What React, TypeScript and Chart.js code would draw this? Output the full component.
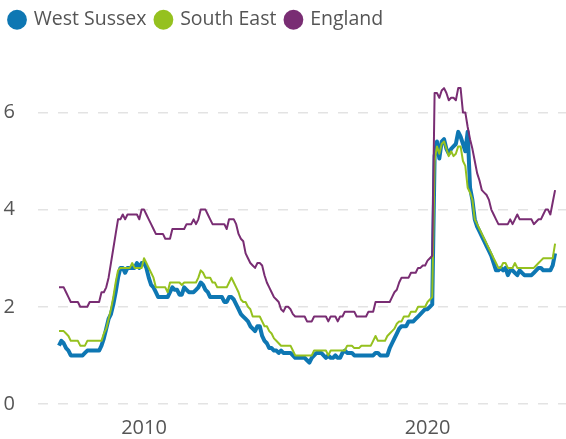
import React, { useEffect, useRef } from "react";
import { Chart, registerables } from "chart.js";

Chart.register(...registerables);

// Monthly series, January 2007 onwards
const START_YEAR = 2007;
const seriesNames = ["West Sussex", "South East", "England"];
const seriesColors = ["#0e77b3", "#95c11f", "#792d73"];
const xTickYears = [2010, 2020];
const yTickValues = [0, 2, 4, 6];

const westSussex = [
  1.2, 1.3, 1.25, 1.15, 1.1, 1.0, 1.0, 1.0, 1.0, 1.0, 1.0, 1.05,
  1.1, 1.1, 1.1, 1.1, 1.1, 1.1, 1.2, 1.35, 1.55, 1.75, 1.85, 2.05,
  2.3, 2.6, 2.8, 2.8, 2.7, 2.8, 2.8, 2.8, 2.8, 2.9, 2.8, 2.9,
  2.9, 2.8, 2.6, 2.45, 2.4, 2.3, 2.2, 2.2, 2.2, 2.2, 2.2, 2.3,
  2.4, 2.35, 2.35, 2.25, 2.25, 2.4, 2.35, 2.3, 2.3, 2.3, 2.35, 2.4,
  2.5, 2.45, 2.35, 2.3, 2.2, 2.2, 2.2, 2.2, 2.2, 2.2, 2.1, 2.1,
  2.2, 2.2, 2.15, 2.05, 1.95, 1.85, 1.8, 1.75, 1.7, 1.6, 1.55, 1.5,
  1.6, 1.6, 1.4, 1.3, 1.25, 1.15, 1.15, 1.1, 1.1, 1.05, 1.1, 1.05,
  1.05, 1.05, 1.05, 1.0, 0.95, 0.95, 0.95, 0.95, 0.95, 0.9, 0.85, 0.95,
  1.0, 1.05, 1.05, 1.05, 1.0, 0.95, 1.0, 0.95, 0.95, 1.0, 0.95, 0.95,
  1.05, 1.1, 1.05, 1.05, 1.05, 1.0, 1.0, 1.0, 1.0, 1.0, 1.0, 1.0,
  1.0, 1.0, 1.05, 1.05, 1.0, 1.0, 1.0, 1.0, 1.15, 1.25, 1.35, 1.45,
  1.55, 1.6, 1.6, 1.6, 1.7, 1.7, 1.7, 1.75, 1.8, 1.85, 1.9, 1.95,
  1.95, 2.0, 2.05, 5.1, 5.4, 5.05, 5.4, 5.45, 5.25, 5.15, 5.25, 5.3,
  5.35, 5.6, 5.5, 5.35, 5.2, 5.6, 4.45, 4.2, 3.8, 3.65, 3.55, 3.45,
  3.35, 3.25, 3.15, 3.05, 2.9, 2.75, 2.75, 2.8, 2.75, 2.8, 2.65, 2.75,
  2.75, 2.7, 2.65, 2.75, 2.7, 2.65, 2.65, 2.65, 2.65, 2.7, 2.75, 2.8,
  2.8, 2.75, 2.75, 2.75, 2.75, 2.85, 3.1,
];

const southEast = [
  1.5, 1.5, 1.5, 1.45, 1.4, 1.3, 1.3, 1.3, 1.3, 1.2, 1.2, 1.2,
  1.3, 1.3, 1.3, 1.3, 1.3, 1.3, 1.3, 1.45, 1.55, 1.75, 1.95, 2.2,
  2.5, 2.75, 2.8, 2.8, 2.8, 2.8, 2.8, 2.9, 2.8, 2.8, 2.8, 2.8,
  3.0, 2.9, 2.8, 2.7, 2.6, 2.4, 2.4, 2.4, 2.4, 2.4, 2.3, 2.5,
  2.5, 2.5, 2.5, 2.5, 2.45, 2.5, 2.5, 2.5, 2.5, 2.5, 2.5, 2.6,
  2.75, 2.7, 2.6, 2.6, 2.6, 2.5, 2.5, 2.4, 2.4, 2.4, 2.4, 2.4,
  2.5, 2.6, 2.5, 2.4, 2.3, 2.15, 2.1, 2.1, 2.0, 1.95, 1.8, 1.8,
  1.8, 1.8, 1.7, 1.6, 1.6, 1.5, 1.45, 1.35, 1.3, 1.25, 1.2, 1.2,
  1.2, 1.2, 1.2, 1.1, 1.0, 1.0, 1.0, 1.0, 1.0, 1.0, 1.0, 1.0,
  1.1, 1.1, 1.1, 1.1, 1.1, 1.1, 1.0, 1.1, 1.1, 1.1, 1.1, 1.1,
  1.1, 1.1, 1.2, 1.2, 1.2, 1.15, 1.15, 1.15, 1.2, 1.2, 1.2, 1.2,
  1.2, 1.3, 1.4, 1.3, 1.3, 1.3, 1.3, 1.4, 1.45, 1.5, 1.55, 1.65,
  1.7, 1.7, 1.8, 1.8, 1.8, 1.9, 1.9, 1.9, 2.0, 2.0, 2.0, 2.0,
  2.1, 2.15, 2.2, 5.0, 5.3, 5.15, 5.35, 5.4, 5.25, 5.1, 5.2, 5.1,
  5.15, 5.3, 5.3, 5.0, 4.9, 4.45, 4.35, 4.2, 3.8, 3.7, 3.6, 3.5,
  3.4, 3.3, 3.2, 3.1, 3.0, 2.9, 2.8, 2.8, 2.9, 2.9, 2.8, 2.8,
  2.8, 2.9, 2.8, 2.8, 2.8, 2.8, 2.8, 2.8, 2.8, 2.8, 2.85, 2.9,
  2.95, 3.0, 3.0, 3.0, 3.0, 3.0, 3.3,
];

const england = [
  2.4, 2.4, 2.4, 2.3, 2.2, 2.1, 2.1, 2.1, 2.1, 2.0, 2.0, 2.0,
  2.0, 2.1, 2.1, 2.1, 2.1, 2.1, 2.3, 2.3, 2.4, 2.6, 2.9, 3.2,
  3.5, 3.8, 3.8, 3.9, 3.8, 3.9, 3.9, 3.9, 3.9, 3.9, 3.8, 4.0,
  4.0, 3.9, 3.8, 3.7, 3.6, 3.5, 3.5, 3.5, 3.5, 3.4, 3.4, 3.4,
  3.6, 3.6, 3.6, 3.6, 3.6, 3.6, 3.7, 3.7, 3.7, 3.8, 3.7, 3.8,
  4.0, 4.0, 4.0, 3.9, 3.8, 3.7, 3.7, 3.7, 3.7, 3.7, 3.7, 3.6,
  3.8, 3.8, 3.8, 3.7, 3.5, 3.4, 3.35, 3.1, 3.0, 2.9, 2.85, 2.8,
  2.9, 2.9, 2.85, 2.65, 2.5, 2.4, 2.3, 2.2, 2.15, 2.1, 1.95, 1.9,
  2.0, 2.0, 1.95, 1.85, 1.8, 1.8, 1.8, 1.8, 1.8, 1.7, 1.7, 1.7,
  1.8, 1.8, 1.8, 1.8, 1.8, 1.8, 1.7, 1.8, 1.8, 1.8, 1.7, 1.8,
  1.8, 1.9, 1.9, 1.9, 1.9, 1.9, 1.8, 1.8, 1.8, 1.8, 1.8, 1.9,
  1.9, 1.9, 2.1, 2.1, 2.1, 2.1, 2.1, 2.1, 2.1, 2.2, 2.3, 2.35,
  2.5, 2.6, 2.6, 2.6, 2.6, 2.7, 2.7, 2.7, 2.8, 2.8, 2.85, 2.85,
  2.95, 3.0, 3.05, 6.4, 6.4, 6.3, 6.45, 6.5, 6.4, 6.25, 6.3, 6.3,
  6.25, 6.5, 6.5, 6.0, 6.0, 5.7, 5.45, 5.25, 5.0, 4.75, 4.6, 4.4,
  4.35, 4.3, 4.2, 4.0, 3.9, 3.8, 3.7, 3.7, 3.7, 3.7, 3.7, 3.8,
  3.7, 3.8, 3.9, 3.8, 3.8, 3.8, 3.8, 3.8, 3.8, 3.7, 3.75, 3.8,
  3.8, 3.9, 4.0, 4.0, 3.9, 4.15, 4.4,
];

const seriesValues = [westSussex, southEast, england];
const seriesWidths = [4, 2, 2];

const FONT = "'Open Sans', 'Noto Sans', sans-serif";
const TEXT = "#555555";

export default function App() {
  const ref = useRef<HTMLCanvasElement | null>(null);

  useEffect(() => {
    if (!ref.current) return;
    const monthX = (i: number) => START_YEAR + i / 12;
    const datasets = seriesNames.map((name, k) => ({
      label: name,
      data: seriesValues[k].map((v, i) => ({ x: monthX(i), y: v })),
      borderColor: seriesColors[k],
      backgroundColor: seriesColors[k],
      borderWidth: seriesWidths[k],
      pointRadius: 0,
      pointHoverRadius: 0,
      pointStyle: "circle",
      tension: 0,
      borderJoinStyle: "round" as const,
      order: 3 - k,
      fill: false,
    }));

    const chart = new Chart(ref.current, {
      type: "line",
      data: { datasets },
      options: {
        animation: false,
        responsive: false,
        maintainAspectRatio: false,
        layout: { padding: 0 },
        plugins: {
          tooltip: { enabled: false },
          legend: {
            position: "top",
            align: "start",
            labels: {
              usePointStyle: true,
              boxWidth: 14,
              boxHeight: 14,
              padding: 10,
              color: TEXT,
              font: { family: FONT, size: 19.5 },
              sort: (a: any, b: any) => a.datasetIndex - b.datasetIndex,
              generateLabels: (c: any) =>
                Chart.defaults.plugins.legend.labels
                  .generateLabels(c)
                  .map((l: any) => ({ ...l, lineWidth: 0 })),
            },
          },
        },
        scales: {
          x: {
            type: "linear",
            min: 2006.26,
            max: 2024.885,
            grid: { display: false, drawTicks: false },
            border: { display: false },
            afterBuildTicks: (s: any) => {
              s.ticks = xTickYears.map((v) => ({ value: v }));
            },
            afterFit: (s: any) => {
              s.height = 34;
            },
            ticks: {
              padding: 12,
              color: TEXT,
              font: { family: FONT, size: 20 },
              maxRotation: 0,
              callback: (v: any) => String(v),
            },
          },
          y: {
            type: "linear",
            min: 0,
            max: 7.5,
            grid: {
              color: "#e3e3e3",
              lineWidth: 1.5,
              drawTicks: false,
            },
            border: { display: false, dash: [10, 10] },
            afterBuildTicks: (s: any) => {
              s.ticks = yTickValues.map((v) => ({ value: v }));
            },
            afterFit: (s: any) => {
              s.width = 38;
            },
            ticks: {
              padding: 23,
              color: TEXT,
              font: { family: FONT, size: 20 },
              callback: (v: any) => String(v),
            },
          },
        },
      },
    });
    return () => chart.destroy();
  }, []);

  return (
    <div style={{ position: "absolute", left: 0, top: 0, width: 566, height: 439, background: "#fff" }}>
      <canvas ref={ref} width={566} height={439} style={{ display: "block" }} />
    </div>
  );
}
